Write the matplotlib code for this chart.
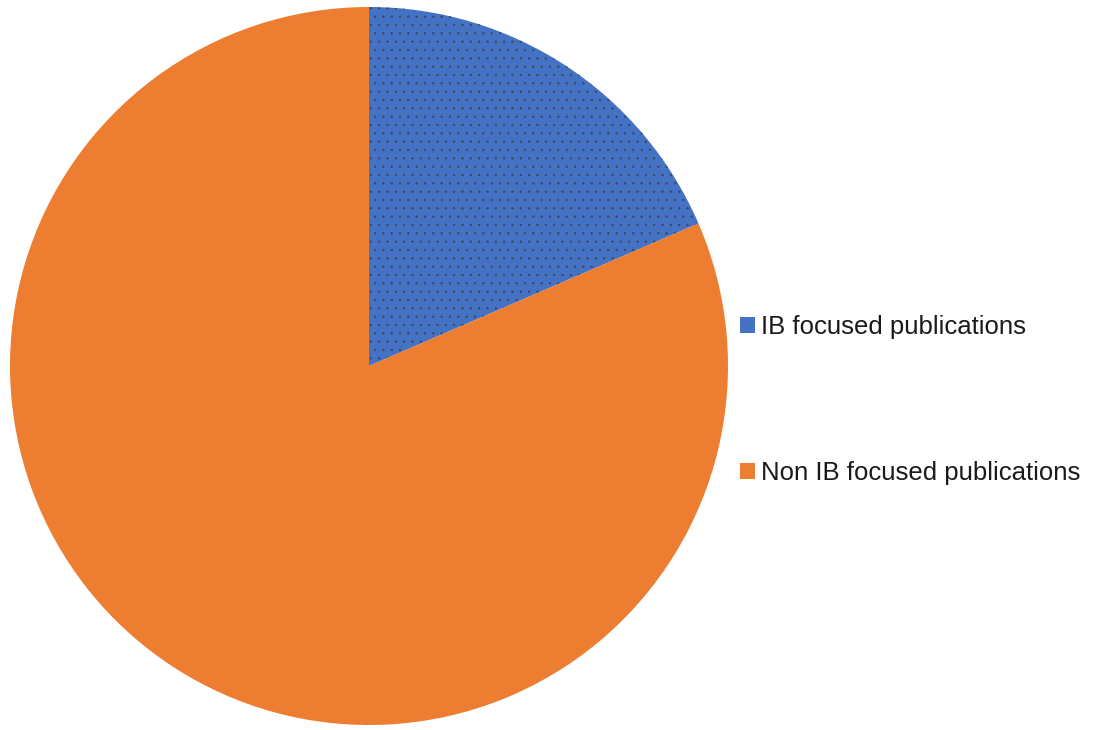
import matplotlib
matplotlib.use("Agg")
import matplotlib.pyplot as plt

labels = ["IB focused publications", "Non IB focused publications"]
values = [18.5, 81.5]
colors = ["#4472C4", "#ED7D31"]

plt.rcParams['font.family'] = ['Liberation Sans', 'DejaVu Sans']
plt.rcParams['hatch.linewidth'] = 0.4

W, H = 1094, 730
fig = plt.figure(figsize=(W / 100, H / 100), dpi=100)
cx, cy, r = 369, 366, 359
ax = fig.add_axes([(cx - r) / W, (H - cy - r) / H, 2 * r / W, 2 * r / H])
wedges, _ = ax.pie(values, colors=colors, startangle=90, counterclock=False,
                   radius=1.0, wedgeprops=dict(linewidth=0))
ax.set_xlim(-1, 1)
ax.set_ylim(-1, 1)
ax.set_aspect('equal')
ax.axis('off')

wedges[0].set_hatch('..')
wedges[0].set_edgecolor('#3d4450')
wedges[0].set_linewidth(0)

leg = fig.legend(wedges, labels, loc='center left',
                 bbox_to_anchor=(740 / W, (H - 400) / H),
                 frameon=False, fontsize=18.5, labelspacing=4.75,
                 handlelength=0.58, handleheight=0.58, handletextpad=0.22,
                 borderpad=0, borderaxespad=0)
for h, c in zip(leg.legend_handles, colors):
    h.set_hatch(None)
    h.set_facecolor(c)
    h.set_edgecolor(c)
for t in leg.get_texts():
    t.set_color('#1a1a1a')

fig.savefig("out.png", dpi=100)
